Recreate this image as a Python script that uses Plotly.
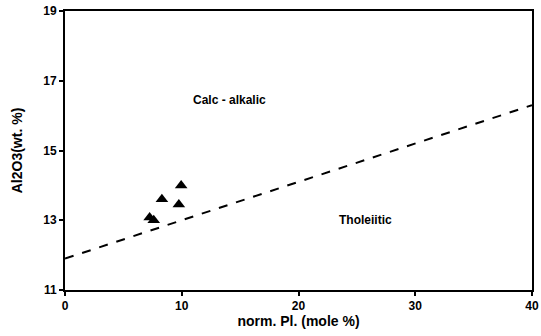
import plotly.graph_objects as go

# Data
pl_norm = [9.95, 8.3, 9.75, 7.25, 7.6]
al2o3 = [14.0, 13.6, 13.45, 13.08, 13.0]

line_x = [0, 40]
line_y = [11.9, 16.3]

x_ticks = [0, 10, 20, 30, 40]
y_ticks = [11, 13, 15, 17, 19]

labels_text = ["Calc - alkalic", "Tholeiitic"]
labels_x = [14.1, 25.7]
labels_y = [16.45, 13.0]

FONT = "Liberation Sans, Arial, sans-serif"

fig = go.Figure()
fig.add_trace(go.Scatter(
    x=line_x, y=line_y, mode="lines",
    line=dict(color="black", width=2, dash="dash"),
    showlegend=False, hoverinfo="skip"))
fig.add_trace(go.Scatter(
    x=pl_norm, y=al2o3, mode="markers",
    marker=dict(symbol="triangle-up", size=11, color="black"),
    showlegend=False))
for t, x, y in zip(labels_text, labels_x, labels_y):
    fig.add_annotation(x=x, y=y, text="<b>%s</b>" % t, showarrow=False,
                       font=dict(family=FONT, size=12, color="black"))

axis_common = dict(showgrid=False, zeroline=False, showline=True, linecolor="black",
                   linewidth=2, mirror=True, ticks="outside", ticklen=4,
                   tickwidth=1.5, tickcolor="black", automargin=False,
                   ticklabeloverflow="allow",
                   tickfont=dict(family=FONT, size=12, color="black"))

fig.update_xaxes(range=[0, 40], tickvals=x_ticks,
                 ticktext=["<b>%d</b>" % v for v in x_ticks],
                 title=dict(text="<b>norm. Pl. (mole %)</b>", standoff=4,
                            font=dict(family=FONT, size=14, color="black")),
                 **axis_common)
fig.update_yaxes(range=[11, 19], tickvals=y_ticks,
                 ticktext=["<b>%d</b>" % v for v in y_ticks],
                 title=dict(text="<b>Al2O3(wt. %)</b>", standoff=17,
                            font=dict(family=FONT, size=14, color="black")),
                 **axis_common)

fig.update_layout(width=541, height=336, plot_bgcolor="white", paper_bgcolor="white",
                  margin=dict(l=65, r=9, t=11, b=46))

fig.write_html("out.html", config={"displayModeBar": False},
               post_script="document.body.style.margin='0';")
